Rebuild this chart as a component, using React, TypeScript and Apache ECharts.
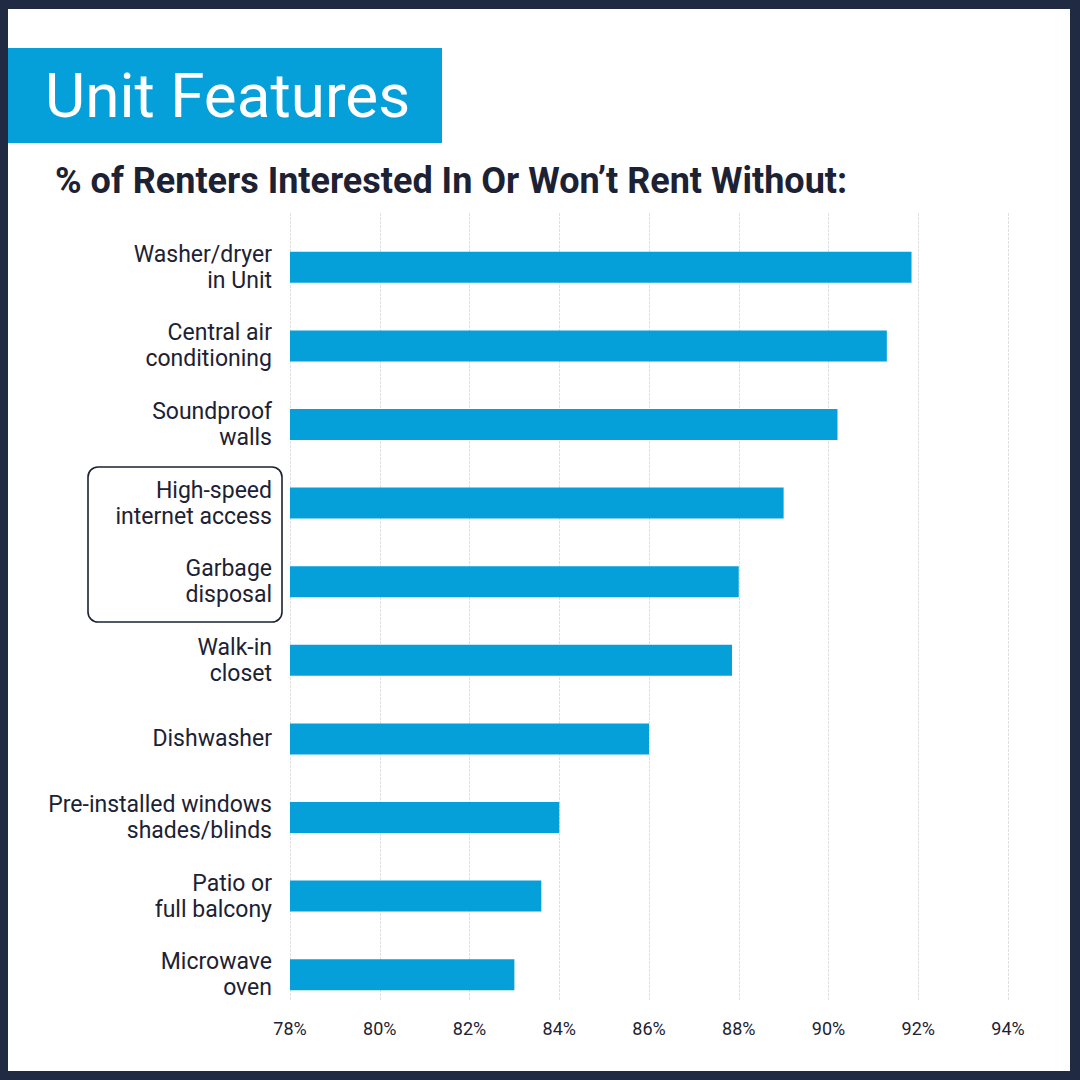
import React, { useEffect, useRef } from "react";
import * as echarts from "echarts";

const categories = [
  "Washer/dryer\nin Unit",
  "Central air\nconditioning",
  "Soundproof\nwalls",
  "High-speed\ninternet access",
  "Garbage\ndisposal",
  "Walk-in\ncloset",
  "Dishwasher",
  "Pre-installed windows\nshades/blinds",
  "Patio or\nfull balcony",
  "Microwave\noven",
];
const values = [91.85, 91.3, 90.2, 89.0, 88.0, 87.85, 86.0, 84.0, 83.6, 83.0];
const axisMin = 78;
const axisMax = 94;
const axisStep = 2;
const titleText = "Unit Features";
const subtitleText = "% of Renters Interested In Or Won\u2019t Rent Without:";

const BLUE = "#05a0da";
const NAVY = "#1c2233";
const FRAME = "#212a43";

export default function App() {
  const ref = useRef<HTMLDivElement>(null);
  useEffect(() => {
    if (!ref.current) return;
    const chart = echarts.init(ref.current, undefined, { renderer: "svg" });
    chart.setOption({
      animation: false,
      backgroundColor: "#ffffff",
      textStyle: { fontFamily: "Roboto" },
      grid: [
        { left: 290, right: 72, top: 228, bottom: 66 },
        { left: 290, right: 72, top: 213, bottom: 80 },
      ],
      xAxis: [
        { gridIndex: 0, type: "value", min: axisMin, max: axisMax, interval: axisStep, show: false },
        {
          gridIndex: 1,
          type: "value",
          min: axisMin,
          max: axisMax,
          interval: axisStep,
          axisLine: { show: false },
          axisTick: { show: false },
          splitLine: { show: true, lineStyle: { color: "#dde1e6", width: 1, type: [3, 1] } },
          axisLabel: { formatter: "{value}%", color: NAVY, fontSize: 18, margin: 19, fontFamily: "Roboto" },
        },
      ],
      yAxis: [
        {
          gridIndex: 0,
          type: "category",
          inverse: true,
          data: categories,
          axisLine: { show: false },
          axisTick: { show: false },
          splitLine: { show: false },
          axisLabel: { color: NAVY, fontSize: 23, lineHeight: 26, margin: 18, fontFamily: "Roboto", align: "right" },
        },
        { gridIndex: 1, type: "category", data: [""], show: false },
      ],
      series: [
        {
          type: "bar",
          xAxisIndex: 0,
          yAxisIndex: 0,
          data: values,
          barWidth: 31,
          itemStyle: { color: BLUE },
          z: 3,
        },
      ],
      graphic: [
        { type: "rect", shape: { x: 8, y: 48, width: 434, height: 95 }, style: { fill: BLUE } },
        {
          type: "text",
          x: 45,
          y: 95,
          style: {
            text: titleText,
            fill: "#ffffff",
            font: "400 62px Roboto",
            textAlign: "left",
            textVerticalAlign: "middle",
          },
        },
        {
          type: "text",
          x: 55,
          y: 181,
          style: {
            text: subtitleText,
            fill: NAVY,
            font: "700 36px Roboto",
            textAlign: "left",
            textVerticalAlign: "middle",
          },
        },
        {
          type: "rect",
          shape: { x: 88, y: 467, width: 194, height: 155, r: 10 },
          style: { fill: "none", stroke: NAVY, lineWidth: 1.6 },
        },
        { type: "rect", z: 100, shape: { x: 0, y: 0, width: 8, height: 1080 }, style: { fill: FRAME } },
        { type: "rect", z: 100, shape: { x: 0, y: 0, width: 1080, height: 9 }, style: { fill: FRAME } },
        { type: "rect", z: 100, shape: { x: 1070, y: 0, width: 10, height: 1080 }, style: { fill: FRAME } },
        { type: "rect", z: 100, shape: { x: 0, y: 1071, width: 1080, height: 9 }, style: { fill: FRAME } },
      ],
    });
    return () => chart.dispose();
  }, []);
  return (
    <div
      ref={ref}
      style={{ position: "absolute", left: 0, top: 0, width: 1080, height: 1080 }}
    />
  );
}
